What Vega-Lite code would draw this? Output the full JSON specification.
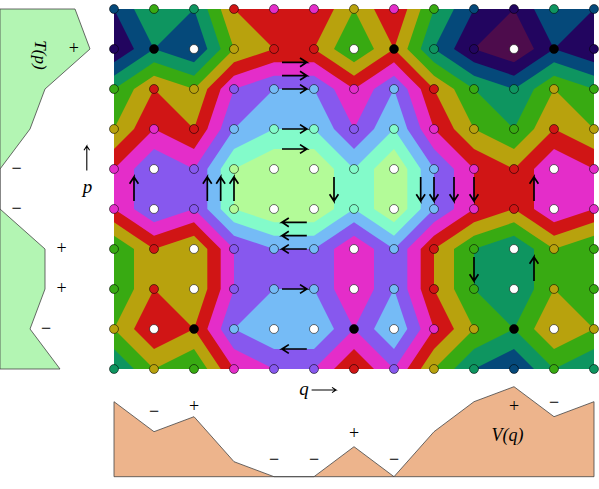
{"$schema":"https://vega.github.io/schema/vega-lite/v6.json","width":599,"height":489,"padding":0,"autosize":{"type":"none"},"background":"white","config":{"view":{"stroke":null}},
"datasets":{
"bands":[
{"id":"base","band":"magenta","q":0,"p":0},{"id":"base","band":"magenta","q":12,"p":0},{"id":"base","band":"magenta","q":12,"p":9},{"id":"base","band":"magenta","q":0,"p":9},
{"id":"r1","band":"red","q":0,"p":0},{"id":"r1","band":"red","q":12,"p":0},{"id":"r1","band":"red","q":12,"p":4},{"id":"r1","band":"red","q":11,"p":3.5},{"id":"r1","band":"red","q":10.5,"p":4},{"id":"r1","band":"red","q":10.5,"p":5},{"id":"r1","band":"red","q":11,"p":5.333},{"id":"r1","band":"red","q":12,"p":5},{"id":"r1","band":"red","q":12,"p":9},{"id":"r1","band":"red","q":7.333,"p":9},{"id":"r1","band":"red","q":7.667,"p":8.5},{"id":"r1","band":"red","q":8,"p":8},{"id":"r1","band":"red","q":7.667,"p":7},{"id":"r1","band":"red","q":7.667,"p":6},{"id":"r1","band":"red","q":8,"p":5.667},{"id":"r1","band":"red","q":8.5,"p":5.333},{"id":"r1","band":"red","q":9,"p":5},{"id":"r1","band":"red","q":9,"p":4},{"id":"r1","band":"red","q":8.5,"p":3.5},{"id":"r1","band":"red","q":8,"p":3},{"id":"r1","band":"red","q":7.667,"p":2},{"id":"r1","band":"red","q":7.333,"p":1.667},{"id":"r1","band":"red","q":7,"p":1.333},{"id":"r1","band":"red","q":6.5,"p":1.667},{"id":"r1","band":"red","q":6,"p":2},{"id":"r1","band":"red","q":5.5,"p":1.667},{"id":"r1","band":"red","q":5,"p":1.333},{"id":"r1","band":"red","q":4,"p":1.333},{"id":"r1","band":"red","q":3,"p":1.667},{"id":"r1","band":"red","q":2.667,"p":2},{"id":"r1","band":"red","q":2.333,"p":3},{"id":"r1","band":"red","q":2,"p":3.5},{"id":"r1","band":"red","q":1,"p":3},{"id":"r1","band":"red","q":0.5,"p":3.5},{"id":"r1","band":"red","q":0,"p":4},
{"id":"r2","band":"red","q":0,"p":5},{"id":"r2","band":"red","q":0.5,"p":5.333},{"id":"r2","band":"red","q":1,"p":5.667},{"id":"r2","band":"red","q":2,"p":5.333},{"id":"r2","band":"red","q":2.333,"p":5.667},{"id":"r2","band":"red","q":2.667,"p":6},{"id":"r2","band":"red","q":2.667,"p":7},{"id":"r2","band":"red","q":2.333,"p":8},{"id":"r2","band":"red","q":2.667,"p":8.5},{"id":"r2","band":"red","q":3,"p":9},{"id":"r2","band":"red","q":0,"p":9},
{"id":"r3","band":"red","q":5.5,"p":9},{"id":"r3","band":"red","q":6,"p":8.5},{"id":"r3","band":"red","q":6.5,"p":9},
{"id":"o1","band":"olive","q":3,"p":0},{"id":"o1","band":"olive","q":4,"p":1},{"id":"o1","band":"olive","q":3,"p":1.333},{"id":"o1","band":"olive","q":2.667,"p":1.667},{"id":"o1","band":"olive","q":2.333,"p":2},{"id":"o1","band":"olive","q":2,"p":3},{"id":"o1","band":"olive","q":1,"p":2},{"id":"o1","band":"olive","q":0.5,"p":3},{"id":"o1","band":"olive","q":0,"p":3.5},{"id":"o1","band":"olive","q":0,"p":0},
{"id":"o2","band":"olive","q":5.5,"p":0},{"id":"o2","band":"olive","q":5,"p":1},{"id":"o2","band":"olive","q":5.5,"p":1.333},{"id":"o2","band":"olive","q":6,"p":1.667},{"id":"o2","band":"olive","q":6.5,"p":1.333},{"id":"o2","band":"olive","q":7,"p":1},{"id":"o2","band":"olive","q":6.5,"p":0},
{"id":"o3","band":"olive","q":7.333,"p":0},{"id":"o3","band":"olive","q":7,"p":1},{"id":"o3","band":"olive","q":7.333,"p":1.333},{"id":"o3","band":"olive","q":7.667,"p":1.667},{"id":"o3","band":"olive","q":8,"p":2},{"id":"o3","band":"olive","q":8.5,"p":3},{"id":"o3","band":"olive","q":9,"p":3.5},{"id":"o3","band":"olive","q":10,"p":4},{"id":"o3","band":"olive","q":10.5,"p":3.5},{"id":"o3","band":"olive","q":11,"p":3},{"id":"o3","band":"olive","q":12,"p":3.5},{"id":"o3","band":"olive","q":12,"p":0},
{"id":"o4","band":"olive","q":0,"p":5.333},{"id":"o4","band":"olive","q":0.5,"p":5.667},{"id":"o4","band":"olive","q":1,"p":6},{"id":"o4","band":"olive","q":1,"p":7},{"id":"o4","band":"olive","q":0.5,"p":8},{"id":"o4","band":"olive","q":1,"p":8.5},{"id":"o4","band":"olive","q":2,"p":8},{"id":"o4","band":"olive","q":2.333,"p":8.5},{"id":"o4","band":"olive","q":2.667,"p":9},{"id":"o4","band":"olive","q":0,"p":9},
{"id":"o5","band":"olive","q":1,"p":6},{"id":"o5","band":"olive","q":2,"p":5.667},{"id":"o5","band":"olive","q":2.333,"p":6},{"id":"o5","band":"olive","q":2.333,"p":7},{"id":"o5","band":"olive","q":2,"p":8},{"id":"o5","band":"olive","q":1,"p":7},
{"id":"o6","band":"olive","q":7.667,"p":9},{"id":"o6","band":"olive","q":8,"p":8.5},{"id":"o6","band":"olive","q":8.5,"p":8},{"id":"o6","band":"olive","q":8,"p":7},{"id":"o6","band":"olive","q":8,"p":6},{"id":"o6","band":"olive","q":8.5,"p":5.667},{"id":"o6","band":"olive","q":9,"p":5.333},{"id":"o6","band":"olive","q":10,"p":5},{"id":"o6","band":"olive","q":10.5,"p":5.333},{"id":"o6","band":"olive","q":11,"p":5.667},{"id":"o6","band":"olive","q":12,"p":5.333},{"id":"o6","band":"olive","q":12,"p":9},
{"id":"g1","band":"green","q":0,"p":0},{"id":"g1","band":"green","q":2.667,"p":0},{"id":"g1","band":"green","q":3,"p":1},{"id":"g1","band":"green","q":2.667,"p":1.333},{"id":"g1","band":"green","q":2.333,"p":1.667},{"id":"g1","band":"green","q":2,"p":2},{"id":"g1","band":"green","q":1,"p":1.667},{"id":"g1","band":"green","q":0.5,"p":2},{"id":"g1","band":"green","q":0,"p":3},
{"id":"g2","band":"green","q":6,"p":0},{"id":"g2","band":"green","q":6.5,"p":1},{"id":"g2","band":"green","q":6,"p":1.333},{"id":"g2","band":"green","q":5.5,"p":1},
{"id":"g3","band":"green","q":7.667,"p":0},{"id":"g3","band":"green","q":7.333,"p":1},{"id":"g3","band":"green","q":7.667,"p":1.333},{"id":"g3","band":"green","q":8,"p":1.667},{"id":"g3","band":"green","q":8.5,"p":2},{"id":"g3","band":"green","q":9,"p":3},{"id":"g3","band":"green","q":10,"p":3.5},{"id":"g3","band":"green","q":10.5,"p":3},{"id":"g3","band":"green","q":11,"p":2},{"id":"g3","band":"green","q":12,"p":3},{"id":"g3","band":"green","q":12,"p":0},
{"id":"g4","band":"green","q":0,"p":5.667},{"id":"g4","band":"green","q":0.5,"p":6},{"id":"g4","band":"green","q":0.5,"p":7},{"id":"g4","band":"green","q":0,"p":8},
{"id":"g5","band":"green","q":0,"p":8},{"id":"g5","band":"green","q":0.5,"p":8.5},{"id":"g5","band":"green","q":1,"p":9},{"id":"g5","band":"green","q":0,"p":9},
{"id":"g6","band":"green","q":1,"p":9},{"id":"g6","band":"green","q":2,"p":8.5},{"id":"g6","band":"green","q":2.333,"p":9},
{"id":"g7","band":"green","q":10,"p":5.333},{"id":"g7","band":"green","q":9,"p":5.667},{"id":"g7","band":"green","q":8.5,"p":6},{"id":"g7","band":"green","q":8.5,"p":7},{"id":"g7","band":"green","q":9,"p":8},{"id":"g7","band":"green","q":8.5,"p":8.5},{"id":"g7","band":"green","q":8,"p":9},{"id":"g7","band":"green","q":12,"p":9},{"id":"g7","band":"green","q":12,"p":8},{"id":"g7","band":"green","q":11,"p":8.5},{"id":"g7","band":"green","q":10.5,"p":8},{"id":"g7","band":"green","q":11,"p":7},{"id":"g7","band":"green","q":11,"p":6},{"id":"g7","band":"green","q":10.5,"p":5.667},
{"id":"g8","band":"green","q":11,"p":6},{"id":"g8","band":"green","q":12,"p":5.667},{"id":"g8","band":"green","q":12,"p":8},{"id":"g8","band":"green","q":11,"p":7},
{"id":"t1","band":"teal","q":0,"p":0},{"id":"t1","band":"teal","q":2.333,"p":0},{"id":"t1","band":"teal","q":2.667,"p":1},{"id":"t1","band":"teal","q":2.333,"p":1.333},{"id":"t1","band":"teal","q":2,"p":1.667},{"id":"t1","band":"teal","q":1,"p":1.333},{"id":"t1","band":"teal","q":0.5,"p":1.667},{"id":"t1","band":"teal","q":0,"p":2},
{"id":"t2","band":"teal","q":8,"p":0},{"id":"t2","band":"teal","q":7.667,"p":1},{"id":"t2","band":"teal","q":8,"p":1.333},{"id":"t2","band":"teal","q":8.5,"p":1.667},{"id":"t2","band":"teal","q":9,"p":2},{"id":"t2","band":"teal","q":10,"p":3},{"id":"t2","band":"teal","q":10.5,"p":2},{"id":"t2","band":"teal","q":11,"p":1.667},{"id":"t2","band":"teal","q":12,"p":2},{"id":"t2","band":"teal","q":12,"p":0},
{"id":"t3","band":"teal","q":9,"p":6},{"id":"t3","band":"teal","q":10,"p":5.667},{"id":"t3","band":"teal","q":10.5,"p":6},{"id":"t3","band":"teal","q":10.5,"p":7},{"id":"t3","band":"teal","q":10,"p":8},{"id":"t3","band":"teal","q":9,"p":7},
{"id":"t4","band":"teal","q":0,"p":8.5},{"id":"t4","band":"teal","q":0.5,"p":9},{"id":"t4","band":"teal","q":0,"p":9},
{"id":"t5","band":"teal","q":8.5,"p":9},{"id":"t5","band":"teal","q":9,"p":8.5},{"id":"t5","band":"teal","q":10,"p":8},{"id":"t5","band":"teal","q":10.5,"p":8.5},{"id":"t5","band":"teal","q":11,"p":9},
{"id":"t6","band":"teal","q":11,"p":9},{"id":"t6","band":"teal","q":12,"p":8.5},{"id":"t6","band":"teal","q":12,"p":9},
{"id":"n1","band":"navy","q":0,"p":0},{"id":"n1","band":"navy","q":0.5,"p":0},{"id":"n1","band":"navy","q":1,"p":1},{"id":"n1","band":"navy","q":0,"p":1.667},
{"id":"n2","band":"navy","q":1,"p":1},{"id":"n2","band":"navy","q":2,"p":0},{"id":"n2","band":"navy","q":2.333,"p":1},{"id":"n2","band":"navy","q":2,"p":1.333},
{"id":"n3","band":"navy","q":8.5,"p":0},{"id":"n3","band":"navy","q":8,"p":1},{"id":"n3","band":"navy","q":8.5,"p":1.333},{"id":"n3","band":"navy","q":9,"p":1.667},{"id":"n3","band":"navy","q":10,"p":2},{"id":"n3","band":"navy","q":10.5,"p":1.667},{"id":"n3","band":"navy","q":11,"p":1.333},{"id":"n3","band":"navy","q":12,"p":1.667},{"id":"n3","band":"navy","q":12,"p":0},
{"id":"n4","band":"navy","q":9,"p":9},{"id":"n4","band":"navy","q":10,"p":8.5},{"id":"n4","band":"navy","q":10.5,"p":9},
{"id":"i1","band":"indigo","q":0,"p":0},{"id":"i1","band":"indigo","q":0.5,"p":1},{"id":"i1","band":"indigo","q":0,"p":1.333},
{"id":"i2","band":"indigo","q":9,"p":0},{"id":"i2","band":"indigo","q":8.5,"p":1},{"id":"i2","band":"indigo","q":9,"p":1.333},{"id":"i2","band":"indigo","q":10,"p":1.667},{"id":"i2","band":"indigo","q":10.5,"p":1.333},{"id":"i2","band":"indigo","q":11,"p":1},{"id":"i2","band":"indigo","q":10.5,"p":0},
{"id":"i3","band":"indigo","q":11,"p":1},{"id":"i3","band":"indigo","q":12,"p":0},{"id":"i3","band":"indigo","q":12,"p":1.333},
{"id":"m1","band":"maroon","q":9,"p":1},{"id":"m1","band":"maroon","q":10,"p":0},{"id":"m1","band":"maroon","q":10.5,"p":1},{"id":"m1","band":"maroon","q":10,"p":1.333},
{"id":"pu","band":"purple","q":0.5,"p":4},{"id":"pu","band":"purple","q":1,"p":3.5},{"id":"pu","band":"purple","q":2,"p":4},{"id":"pu","band":"purple","q":2.333,"p":3.5},{"id":"pu","band":"purple","q":2.667,"p":3},{"id":"pu","band":"purple","q":3,"p":2},{"id":"pu","band":"purple","q":4,"p":1.667},{"id":"pu","band":"purple","q":5,"p":1.667},{"id":"pu","band":"purple","q":5.5,"p":2},{"id":"pu","band":"purple","q":6,"p":3},{"id":"pu","band":"purple","q":6.5,"p":2},{"id":"pu","band":"purple","q":7,"p":1.667},{"id":"pu","band":"purple","q":7.333,"p":2},{"id":"pu","band":"purple","q":7.667,"p":3},{"id":"pu","band":"purple","q":8,"p":3.5},{"id":"pu","band":"purple","q":8.5,"p":4},{"id":"pu","band":"purple","q":8.5,"p":5},{"id":"pu","band":"purple","q":8,"p":5.333},{"id":"pu","band":"purple","q":7.667,"p":5.667},{"id":"pu","band":"purple","q":7.333,"p":6},{"id":"pu","band":"purple","q":7.333,"p":7},{"id":"pu","band":"purple","q":7.667,"p":8},{"id":"pu","band":"purple","q":7.333,"p":8.5},{"id":"pu","band":"purple","q":7,"p":9},{"id":"pu","band":"purple","q":6.5,"p":8.5},{"id":"pu","band":"purple","q":6,"p":8},{"id":"pu","band":"purple","q":6.5,"p":7},{"id":"pu","band":"purple","q":6.5,"p":6},{"id":"pu","band":"purple","q":6,"p":5.667},{"id":"pu","band":"purple","q":5.5,"p":6},{"id":"pu","band":"purple","q":5.5,"p":7},{"id":"pu","band":"purple","q":6,"p":8},{"id":"pu","band":"purple","q":5.5,"p":8.5},{"id":"pu","band":"purple","q":5,"p":9},{"id":"pu","band":"purple","q":4,"p":9},{"id":"pu","band":"purple","q":3,"p":8.5},{"id":"pu","band":"purple","q":2.667,"p":8},{"id":"pu","band":"purple","q":3,"p":7},{"id":"pu","band":"purple","q":3,"p":6},{"id":"pu","band":"purple","q":2.667,"p":5.667},{"id":"pu","band":"purple","q":2.333,"p":5.333},{"id":"pu","band":"purple","q":2,"p":5},{"id":"pu","band":"purple","q":1,"p":5.333},{"id":"pu","band":"purple","q":0.5,"p":5},
{"id":"b1","band":"blue","q":4,"p":2},{"id":"b1","band":"blue","q":5,"p":2},{"id":"b1","band":"blue","q":5.5,"p":3},{"id":"b1","band":"blue","q":6,"p":3.5},{"id":"b1","band":"blue","q":6.5,"p":3},{"id":"b1","band":"blue","q":7,"p":2},{"id":"b1","band":"blue","q":7.333,"p":3},{"id":"b1","band":"blue","q":7.667,"p":3.5},{"id":"b1","band":"blue","q":8,"p":4},{"id":"b1","band":"blue","q":8,"p":5},{"id":"b1","band":"blue","q":7.667,"p":5.333},{"id":"b1","band":"blue","q":7.333,"p":5.667},{"id":"b1","band":"blue","q":7,"p":6},{"id":"b1","band":"blue","q":6.5,"p":5.667},{"id":"b1","band":"blue","q":6,"p":5.333},{"id":"b1","band":"blue","q":5.5,"p":5.667},{"id":"b1","band":"blue","q":5,"p":6},{"id":"b1","band":"blue","q":4,"p":6},{"id":"b1","band":"blue","q":3,"p":5.667},{"id":"b1","band":"blue","q":2.667,"p":5.333},{"id":"b1","band":"blue","q":2.333,"p":5},{"id":"b1","band":"blue","q":2.333,"p":4},{"id":"b1","band":"blue","q":2.667,"p":3.5},{"id":"b1","band":"blue","q":3,"p":3},
{"id":"b2","band":"blue","q":4,"p":7},{"id":"b2","band":"blue","q":5,"p":7},{"id":"b2","band":"blue","q":5.5,"p":8},{"id":"b2","band":"blue","q":5,"p":8.5},{"id":"b2","band":"blue","q":4,"p":8.5},{"id":"b2","band":"blue","q":3,"p":8},
{"id":"b3","band":"blue","q":7,"p":7},{"id":"b3","band":"blue","q":7.333,"p":8},{"id":"b3","band":"blue","q":7,"p":8.5},{"id":"b3","band":"blue","q":6.5,"p":8},
{"id":"aq","band":"aqua","q":4,"p":3},{"id":"aq","band":"aqua","q":5,"p":3},{"id":"aq","band":"aqua","q":5.5,"p":3.5},{"id":"aq","band":"aqua","q":6,"p":4},{"id":"aq","band":"aqua","q":6.5,"p":3.5},{"id":"aq","band":"aqua","q":7,"p":3},{"id":"aq","band":"aqua","q":7.333,"p":3.5},{"id":"aq","band":"aqua","q":7.667,"p":4},{"id":"aq","band":"aqua","q":7.667,"p":5},{"id":"aq","band":"aqua","q":7.333,"p":5.333},{"id":"aq","band":"aqua","q":7,"p":5.667},{"id":"aq","band":"aqua","q":6.5,"p":5.333},{"id":"aq","band":"aqua","q":6,"p":5},{"id":"aq","band":"aqua","q":5.5,"p":5.333},{"id":"aq","band":"aqua","q":5,"p":5.667},{"id":"aq","band":"aqua","q":4,"p":5.667},{"id":"aq","band":"aqua","q":3,"p":5.333},{"id":"aq","band":"aqua","q":2.667,"p":5},{"id":"aq","band":"aqua","q":2.667,"p":4},{"id":"aq","band":"aqua","q":3,"p":3.5},
{"id":"l1","band":"lime","q":4,"p":3.5},{"id":"l1","band":"lime","q":5,"p":3.5},{"id":"l1","band":"lime","q":5.5,"p":4},{"id":"l1","band":"lime","q":5.5,"p":5},{"id":"l1","band":"lime","q":5,"p":5.333},{"id":"l1","band":"lime","q":4,"p":5.333},{"id":"l1","band":"lime","q":3,"p":5},{"id":"l1","band":"lime","q":3,"p":4},
{"id":"l2","band":"lime","q":7,"p":3.5},{"id":"l2","band":"lime","q":7.333,"p":4},{"id":"l2","band":"lime","q":7.333,"p":5},{"id":"l2","band":"lime","q":7,"p":5.333},{"id":"l2","band":"lime","q":6.5,"p":5},{"id":"l2","band":"lime","q":6.5,"p":4}
],
"nodes":[
{"q":0,"p":0,"band":"navy"},{"q":1,"p":0,"band":"green"},{"q":2,"p":0,"band":"teal"},{"q":3,"p":0,"band":"red"},{"q":4,"p":0,"band":"magenta"},{"q":5,"p":0,"band":"magenta"},{"q":6,"p":0,"band":"olive"},{"q":7,"p":0,"band":"magenta"},{"q":8,"p":0,"band":"green"},{"q":9,"p":0,"band":"navy"},{"q":10,"p":0,"band":"indigo"},{"q":11,"p":0,"band":"teal"},{"q":12,"p":0,"band":"navy"},
{"q":0,"p":1,"band":"indigo"},{"q":1,"p":1,"band":"black"},{"q":2,"p":1,"band":"white"},{"q":3,"p":1,"band":"olive"},{"q":4,"p":1,"band":"red"},{"q":5,"p":1,"band":"red"},{"q":6,"p":1,"band":"white"},{"q":7,"p":1,"band":"black"},{"q":8,"p":1,"band":"teal"},{"q":9,"p":1,"band":"indigo"},{"q":10,"p":1,"band":"white"},{"q":11,"p":1,"band":"black"},{"q":12,"p":1,"band":"indigo"},
{"q":0,"p":2,"band":"green"},{"q":1,"p":2,"band":"red"},{"q":2,"p":2,"band":"olive"},{"q":3,"p":2,"band":"purple"},{"q":4,"p":2,"band":"blue"},{"q":5,"p":2,"band":"blue"},{"q":6,"p":2,"band":"magenta"},{"q":7,"p":2,"band":"blue"},{"q":8,"p":2,"band":"red"},{"q":9,"p":2,"band":"green"},{"q":10,"p":2,"band":"teal"},{"q":11,"p":2,"band":"olive"},{"q":12,"p":2,"band":"green"},
{"q":0,"p":3,"band":"olive"},{"q":1,"p":3,"band":"magenta"},{"q":2,"p":3,"band":"red"},{"q":3,"p":3,"band":"blue"},{"q":4,"p":3,"band":"aqua"},{"q":5,"p":3,"band":"aqua"},{"q":6,"p":3,"band":"purple"},{"q":7,"p":3,"band":"aqua"},{"q":8,"p":3,"band":"magenta"},{"q":9,"p":3,"band":"olive"},{"q":10,"p":3,"band":"green"},{"q":11,"p":3,"band":"red"},{"q":12,"p":3,"band":"olive"},
{"q":0,"p":4,"band":"magenta"},{"q":1,"p":4,"band":"white"},{"q":2,"p":4,"band":"purple"},{"q":3,"p":4,"band":"lime"},{"q":4,"p":4,"band":"white"},{"q":5,"p":4,"band":"white"},{"q":6,"p":4,"band":"aqua"},{"q":7,"p":4,"band":"white"},{"q":8,"p":4,"band":"blue"},{"q":9,"p":4,"band":"magenta"},{"q":10,"p":4,"band":"red"},{"q":11,"p":4,"band":"white"},{"q":12,"p":4,"band":"magenta"},
{"q":0,"p":5,"band":"magenta"},{"q":1,"p":5,"band":"white"},{"q":2,"p":5,"band":"purple"},{"q":3,"p":5,"band":"lime"},{"q":4,"p":5,"band":"white"},{"q":5,"p":5,"band":"white"},{"q":6,"p":5,"band":"aqua"},{"q":7,"p":5,"band":"white"},{"q":8,"p":5,"band":"blue"},{"q":9,"p":5,"band":"magenta"},{"q":10,"p":5,"band":"red"},{"q":11,"p":5,"band":"white"},{"q":12,"p":5,"band":"magenta"},
{"q":0,"p":6,"band":"green"},{"q":1,"p":6,"band":"red"},{"q":2,"p":6,"band":"white"},{"q":3,"p":6,"band":"purple"},{"q":4,"p":6,"band":"blue"},{"q":5,"p":6,"band":"blue"},{"q":6,"p":6,"band":"white"},{"q":7,"p":6,"band":"blue"},{"q":8,"p":6,"band":"red"},{"q":9,"p":6,"band":"green"},{"q":10,"p":6,"band":"white"},{"q":11,"p":6,"band":"olive"},{"q":12,"p":6,"band":"green"},
{"q":0,"p":7,"band":"green"},{"q":1,"p":7,"band":"red"},{"q":2,"p":7,"band":"white"},{"q":3,"p":7,"band":"purple"},{"q":4,"p":7,"band":"blue"},{"q":5,"p":7,"band":"blue"},{"q":6,"p":7,"band":"white"},{"q":7,"p":7,"band":"blue"},{"q":8,"p":7,"band":"red"},{"q":9,"p":7,"band":"green"},{"q":10,"p":7,"band":"white"},{"q":11,"p":7,"band":"olive"},{"q":12,"p":7,"band":"green"},
{"q":0,"p":8,"band":"olive"},{"q":1,"p":8,"band":"white"},{"q":2,"p":8,"band":"black"},{"q":3,"p":8,"band":"blue"},{"q":4,"p":8,"band":"white"},{"q":5,"p":8,"band":"white"},{"q":6,"p":8,"band":"black"},{"q":7,"p":8,"band":"white"},{"q":8,"p":8,"band":"magenta"},{"q":9,"p":8,"band":"olive"},{"q":10,"p":8,"band":"black"},{"q":11,"p":8,"band":"white"},{"q":12,"p":8,"band":"olive"},
{"q":0,"p":9,"band":"teal"},{"q":1,"p":9,"band":"olive"},{"q":2,"p":9,"band":"green"},{"q":3,"p":9,"band":"magenta"},{"q":4,"p":9,"band":"purple"},{"q":5,"p":9,"band":"purple"},{"q":6,"p":9,"band":"red"},{"q":7,"p":9,"band":"purple"},{"q":8,"p":9,"band":"olive"},{"q":9,"p":9,"band":"teal"},{"q":10,"p":9,"band":"navy"},{"q":11,"p":9,"band":"green"},{"q":12,"p":9,"band":"teal"}
],
"arrows":[
{"a":"h1","q":4.2,"p":1.333},{"a":"h1","q":4.82,"p":1.333},{"a":"h1","q":4.65,"p":1.223},{"a":"h1","q":4.82,"p":1.333},{"a":"h1","q":4.65,"p":1.443},
{"a":"h2","q":4.2,"p":1.667},{"a":"h2","q":4.82,"p":1.667},{"a":"h2","q":4.65,"p":1.557},{"a":"h2","q":4.82,"p":1.667},{"a":"h2","q":4.65,"p":1.777},
{"a":"h3","q":4.2,"p":2},{"a":"h3","q":4.82,"p":2},{"a":"h3","q":4.65,"p":1.89},{"a":"h3","q":4.82,"p":2},{"a":"h3","q":4.65,"p":2.11},
{"a":"h4","q":4.2,"p":3},{"a":"h4","q":4.82,"p":3},{"a":"h4","q":4.65,"p":2.89},{"a":"h4","q":4.82,"p":3},{"a":"h4","q":4.65,"p":3.11},
{"a":"h5","q":4.2,"p":3.5},{"a":"h5","q":4.82,"p":3.5},{"a":"h5","q":4.65,"p":3.39},{"a":"h5","q":4.82,"p":3.5},{"a":"h5","q":4.65,"p":3.61},
{"a":"h6","q":4.2,"p":7},{"a":"h6","q":4.82,"p":7},{"a":"h6","q":4.65,"p":6.89},{"a":"h6","q":4.82,"p":7},{"a":"h6","q":4.65,"p":7.11},
{"a":"l1","q":4.82,"p":5.333},{"a":"l1","q":4.2,"p":5.333},{"a":"l1","q":4.37,"p":5.223},{"a":"l1","q":4.2,"p":5.333},{"a":"l1","q":4.37,"p":5.443},
{"a":"l2","q":4.82,"p":5.667},{"a":"l2","q":4.2,"p":5.667},{"a":"l2","q":4.37,"p":5.557},{"a":"l2","q":4.2,"p":5.667},{"a":"l2","q":4.37,"p":5.777},
{"a":"l3","q":4.82,"p":6},{"a":"l3","q":4.2,"p":6},{"a":"l3","q":4.37,"p":5.89},{"a":"l3","q":4.2,"p":6},{"a":"l3","q":4.37,"p":6.11},
{"a":"l4","q":4.82,"p":8.5},{"a":"l4","q":4.2,"p":8.5},{"a":"l4","q":4.37,"p":8.39},{"a":"l4","q":4.2,"p":8.5},{"a":"l4","q":4.37,"p":8.61},
{"a":"u1","q":0.5,"p":4.8},{"a":"u1","q":0.5,"p":4.2},{"a":"u1","q":0.39,"p":4.37},{"a":"u1","q":0.5,"p":4.2},{"a":"u1","q":0.61,"p":4.37},
{"a":"u2","q":2.333,"p":4.8},{"a":"u2","q":2.333,"p":4.2},{"a":"u2","q":2.223,"p":4.37},{"a":"u2","q":2.333,"p":4.2},{"a":"u2","q":2.443,"p":4.37},
{"a":"u3","q":2.667,"p":4.8},{"a":"u3","q":2.667,"p":4.2},{"a":"u3","q":2.557,"p":4.37},{"a":"u3","q":2.667,"p":4.2},{"a":"u3","q":2.777,"p":4.37},
{"a":"u4","q":3,"p":4.8},{"a":"u4","q":3,"p":4.2},{"a":"u4","q":2.89,"p":4.37},{"a":"u4","q":3,"p":4.2},{"a":"u4","q":3.11,"p":4.37},
{"a":"u5","q":10.5,"p":4.8},{"a":"u5","q":10.5,"p":4.2},{"a":"u5","q":10.39,"p":4.37},{"a":"u5","q":10.5,"p":4.2},{"a":"u5","q":10.61,"p":4.37},
{"a":"u6","q":10.5,"p":6.8},{"a":"u6","q":10.5,"p":6.2},{"a":"u6","q":10.39,"p":6.37},{"a":"u6","q":10.5,"p":6.2},{"a":"u6","q":10.61,"p":6.37},
{"a":"d1","q":5.5,"p":4.2},{"a":"d1","q":5.5,"p":4.8},{"a":"d1","q":5.39,"p":4.63},{"a":"d1","q":5.5,"p":4.8},{"a":"d1","q":5.61,"p":4.63},
{"a":"d2","q":7.667,"p":4.2},{"a":"d2","q":7.667,"p":4.8},{"a":"d2","q":7.557,"p":4.63},{"a":"d2","q":7.667,"p":4.8},{"a":"d2","q":7.777,"p":4.63},
{"a":"d3","q":8,"p":4.2},{"a":"d3","q":8,"p":4.8},{"a":"d3","q":7.89,"p":4.63},{"a":"d3","q":8,"p":4.8},{"a":"d3","q":8.11,"p":4.63},
{"a":"d4","q":8.5,"p":4.2},{"a":"d4","q":8.5,"p":4.8},{"a":"d4","q":8.39,"p":4.63},{"a":"d4","q":8.5,"p":4.8},{"a":"d4","q":8.61,"p":4.63},
{"a":"d5","q":9,"p":4.2},{"a":"d5","q":9,"p":4.8},{"a":"d5","q":8.89,"p":4.63},{"a":"d5","q":9,"p":4.8},{"a":"d5","q":9.11,"p":4.63},
{"a":"d6","q":9,"p":6.2},{"a":"d6","q":9,"p":6.8},{"a":"d6","q":8.89,"p":6.63},{"a":"d6","q":9,"p":6.8},{"a":"d6","q":9.11,"p":6.63}
]},
"layer":[
{"data":{"name":"bands"},"mark":{"type":"line","filled":true,"interpolate":"linear-closed","stroke":null,"strokeWidth":0},"encoding":{"x":{"field":"q","type":"quantitative","axis":null,"scale":{"domain":[0,12],"range":[114,594]}},"y":{"field":"p","type":"quantitative","axis":null,"scale":{"domain":[0,9],"range":[9,369]}},"detail":{"field":"id"},"order":{"value":null},"fill":{"field":"band","type":"nominal","legend":null,"scale":{"domain":["maroon","indigo","navy","teal","green","olive","red","magenta","purple","blue","aqua","lime","white","black"],"range":["#4d0c4c","#22055f","#05497a","#0e9560","#38aa12","#b8a20d","#d01515","#e42dc9","#8758ee","#75bbf6","#83fbca","#b3fb98","#ffffff","#000000"]}}}},
{"data":{"name":"nodes"},"mark":{"type":"point","filled":true,"size":80,"stroke":"#000000","strokeOpacity":0.55,"strokeWidth":1,"opacity":1},"encoding":{"x":{"field":"q","type":"quantitative","axis":null,"scale":{"domain":[0,12],"range":[114,594]}},"y":{"field":"p","type":"quantitative","axis":null,"scale":{"domain":[0,9],"range":[9,369]}},"fill":{"field":"band","type":"nominal","legend":null}}},
{"data":{"name":"arrows"},"mark":{"type":"line","stroke":"#000000","strokeWidth":1.7,"strokeJoin":"miter"},"encoding":{"x":{"field":"q","type":"quantitative","axis":null,"scale":{"domain":[0,12],"range":[114,594]}},"y":{"field":"p","type":"quantitative","axis":null,"scale":{"domain":[0,9],"range":[9,369]}},"detail":{"field":"a"},"order":{"value":null}}},
{"data":{"values":[{"a":"q","q":4.94,"p":9.525},{"a":"q","q":5.55,"p":9.525},{"a":"q","q":5.45,"p":9.46},{"a":"q","q":5.55,"p":9.525},{"a":"q","q":5.45,"p":9.59},{"a":"p","q":-0.68,"p":4.04},{"a":"p","q":-0.68,"p":3.425},{"a":"p","q":-0.75,"p":3.53},{"a":"p","q":-0.68,"p":3.425},{"a":"p","q":-0.61,"p":3.53}]},"mark":{"type":"line","stroke":"#000000","strokeWidth":1.1},"encoding":{"x":{"field":"q","type":"quantitative","axis":null,"scale":{"domain":[0,12],"range":[114,594]}},"y":{"field":"p","type":"quantitative","axis":null,"scale":{"domain":[0,9],"range":[9,369]}},"detail":{"field":"a"},"order":{"value":null}}},
{"data":{"values":[{"label":"p","q":-0.66,"p":4.44},{"label":"q","q":4.75,"p":9.5}]},"mark":{"type":"text","font":"Liberation Serif","fontStyle":"italic","fontSize":19,"color":"#000000"},"encoding":{"x":{"field":"q","type":"quantitative","axis":null,"scale":{"domain":[0,12],"range":[114,594]}},"y":{"field":"p","type":"quantitative","axis":null,"scale":{"domain":[0,9],"range":[9,369]}},"text":{"field":"label"}}},
{"data":{"values":[{"p":0,"T":0},{"p":0,"T":5},{"p":1,"T":6},{"p":2,"T":3},{"p":3,"T":2},{"p":4,"T":0},{"p":5,"T":0},{"p":6,"T":3},{"p":7,"T":3},{"p":8,"T":2},{"p":9,"T":4},{"p":9,"T":0}]},"mark":{"type":"line","filled":true,"interpolate":"linear-closed","fill":"#b3f5b3","stroke":"#444444","strokeWidth":0.8},"encoding":{"x":{"field":"T","type":"quantitative","axis":null,"scale":{"domain":[0,6],"range":[0,90]}},"y":{"field":"p","type":"quantitative","axis":null,"scale":{"domain":[0,9],"range":[9,369]}},"order":{"value":null}}},
{"data":{"values":[{"label":"+","T":4.93,"p":1},{"label":"−","T":1.1,"p":4},{"label":"−","T":1.1,"p":5},{"label":"+","T":4.1,"p":6},{"label":"+","T":4.1,"p":7},{"label":"−","T":3.07,"p":8}]},"mark":{"type":"text","font":"Liberation Serif","fontSize":18,"color":"#000000"},"encoding":{"x":{"field":"T","type":"quantitative","axis":null,"scale":{"domain":[0,6],"range":[0,90]}},"y":{"field":"p","type":"quantitative","axis":null,"scale":{"domain":[0,9],"range":[9,369]}},"text":{"field":"label"}}},
{"data":{"values":[{"label":"T(p)","T":2.67,"p":1.15}]},"mark":{"type":"text","font":"Liberation Serif","fontStyle":"italic","fontSize":17,"angle":90,"color":"#000000"},"encoding":{"x":{"field":"T","type":"quantitative","axis":null,"scale":{"domain":[0,6],"range":[0,90]}},"y":{"field":"p","type":"quantitative","axis":null,"scale":{"domain":[0,9],"range":[9,369]}},"text":{"field":"label"}}},
{"data":{"values":[{"q":0,"V":0},{"q":0,"V":5},{"q":1,"V":3},{"q":2,"V":4},{"q":3,"V":1},{"q":4,"V":0},{"q":5,"V":0},{"q":6,"V":2},{"q":7,"V":0},{"q":8,"V":3},{"q":9,"V":5},{"q":10,"V":6},{"q":11,"V":4},{"q":12,"V":5},{"q":12,"V":0}]},"mark":{"type":"line","filled":true,"interpolate":"linear-closed","fill":"#edb48c","stroke":"#444444","strokeWidth":0.8},"encoding":{"x":{"field":"q","type":"quantitative","axis":null,"scale":{"domain":[0,12],"range":[114,594]}},"y":{"field":"V","type":"quantitative","axis":null,"scale":{"domain":[0,6],"range":[476.7,386.7]}},"order":{"value":null}}},
{"data":{"values":[{"label":"−","q":1,"V":4.3},{"label":"+","q":2,"V":4.67},{"label":"−","q":4,"V":1.1},{"label":"−","q":5,"V":1.1},{"label":"+","q":6,"V":2.85},{"label":"−","q":7,"V":1.1},{"label":"+","q":10,"V":4.67},{"label":"−","q":11,"V":4.9}]},"mark":{"type":"text","font":"Liberation Serif","fontSize":18,"color":"#000000"},"encoding":{"x":{"field":"q","type":"quantitative","axis":null,"scale":{"domain":[0,12],"range":[114,594]}},"y":{"field":"V","type":"quantitative","axis":null,"scale":{"domain":[0,6],"range":[476.7,386.7]}},"text":{"field":"label"}}},
{"data":{"values":[{"label":"V(q)","q":9.84,"V":2.73}]},"mark":{"type":"text","font":"Liberation Serif","fontStyle":"italic","fontSize":18,"color":"#000000"},"encoding":{"x":{"field":"q","type":"quantitative","axis":null,"scale":{"domain":[0,12],"range":[114,594]}},"y":{"field":"V","type":"quantitative","axis":null,"scale":{"domain":[0,6],"range":[476.7,386.7]}},"text":{"field":"label"}}}
],
"resolve":{"scale":{"x":"independent","y":"independent"}}}
